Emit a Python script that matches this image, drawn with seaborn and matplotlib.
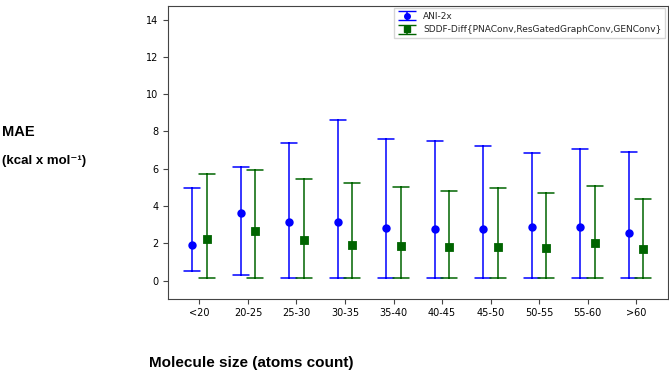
import numpy as np
import pandas as pd
import matplotlib
matplotlib.use("Agg")
import matplotlib.pyplot as plt
import seaborn as sns

# Kích thước phân tử
sizes = ["<20", "20-25", "25-30", "30-35", "35-40", "40-45", "45-50", "50-55", "55-60", ">60"]

# ANI-2x: trung bình, min, max
ani_mean = [1.94, 3.62, 3.14, 3.14, 2.82, 2.80, 2.76, 2.87, 2.87, 2.55]
ani_min = [0.50, 0.32, 0.15, 0.15, 0.17, 0.17, 0.17, 0.17, 0.17, 0.17]
ani_max = [4.99, 6.08, 7.41, 8.64, 7.61, 7.50, 7.23, 6.86, 7.05, 6.89]

# SDDF-Diff: trung bình, min, max
sddf_mean = [2.23, 2.69, 2.19, 1.94, 1.87, 1.80, 1.80, 1.76, 2.00, 1.69]
sddf_min = [0.15, 0.15, 0.15, 0.13, 0.13, 0.13, 0.13, 0.13, 0.13, 0.13]
sddf_max = [5.74, 5.93, 5.45, 5.24, 5.04, 4.83, 4.97, 4.69, 5.10, 4.38]

models = ["ANI-2x", "SDDF-Diff{PNAConv,ResGatedGraphConv,GENConv}"]
colors = ["blue", "darkgreen"]

# Dữ liệu dạng dài: mỗi nhóm có 3 giá trị (min, mean, max)
rows = []
for name, mn, lo, hi in [(models[0], ani_mean, ani_min, ani_max),
                         (models[1], sddf_mean, sddf_min, sddf_max)]:
    for s, m, a, b in zip(sizes, mn, lo, hi):
        for v in (a, m, b):
            rows.append({"size": s, "model": name, "mae": v})
df = pd.DataFrame(rows)

sns.set_style("white")
fig = plt.figure(figsize=(6.69, 3.71), dpi=100)
ax = fig.add_axes([0.251, 0.195, 0.747, 0.79])

sns.pointplot(data=df, x="size", y="mae", hue="model", order=sizes, hue_order=models,
              estimator=np.median, errorbar=lambda x: (np.min(x), np.max(x)),
              dodge=0.3, linestyle="none", markers=["o", "s"], palette=colors,
              capsize=0.33, markersize=4, err_kws={"linewidth": 1.1}, legend=False, ax=ax)

# Legend kiểu errorbar
handles = []
for c, mk in zip(colors, ["o", "s"]):
    h = ax.errorbar([np.nan], [np.nan], yerr=[np.nan], fmt=mk, color=c, ms=4, capsize=6.5, lw=1.1)
    handles.append(h)
ax.legend(handles, models, loc="upper right", fontsize=6.5, frameon=True, fancybox=False,
          edgecolor="#cccccc", borderaxespad=0.3)

ax.set_ylim(-0.96, 14.75)
ax.set_yticks(range(0, 15, 2))
ax.set_xlim(-0.65, 9.65)
ax.tick_params(axis="both", labelsize=7, length=3.5, direction="out", left=True, bottom=True,
               colors="#444444", labelcolor="black")
for sp in ax.spines.values():
    sp.set_color("#444444")
    sp.set_linewidth(0.8)
ax.set_xlabel("")
ax.set_ylabel("")

fam = ["Liberation Sans", "DejaVu Sans"]
fig.text(0.003, 0.645, "MAE", fontsize=10.5, fontweight="bold", family=fam, va="center", color="black")
fig.text(0.003, 0.565, "(kcal x mol⁻¹)", fontsize=9.5, fontweight="bold", family=fam, va="center",
         color="black")
fig.text(0.375, 0.022, "Molecule size (atoms count)", fontsize=11, fontweight="bold",
         family=fam, ha="center", va="center", color="black")

fig.savefig("out.png", dpi=100)
